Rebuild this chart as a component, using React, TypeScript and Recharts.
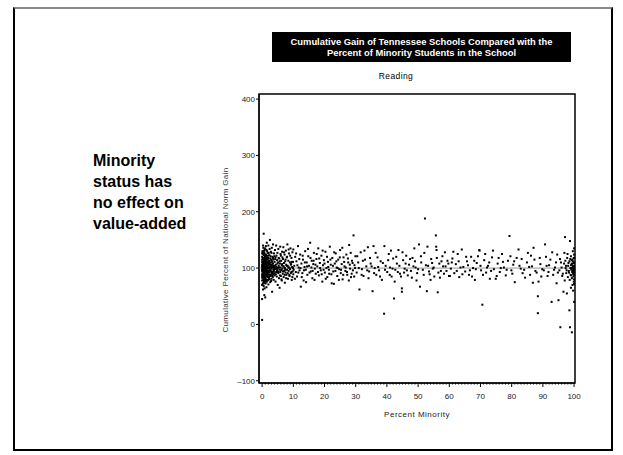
import { ReferenceArea, ReferenceLine, Scatter, ScatterChart, XAxis, YAxis } from 'recharts';

// [percent minority, cumulative % of national norm gain]
const nearZero: [number, number][] = [
  [0, 102], [0, 95], [0, 110], [0, 88], [0, 120], [0, 78], [0, 8], [0.1, 130], [0.1, 99], [0.1, 91],
  [0.2, 105], [0.2, 84], [0.2, 116], [0.2, 72], [0.3, 140], [0.3, 97], [0.3, 108], [0.3, 62], [0.4, 93], [0.4, 125],
  [0.4, 101], [0.4, 81], [0.5, 161], [0.5, 112], [0.5, 89], [0.5, 104], [0.5, 68], [0.6, 96], [0.6, 118], [0.6, 85],
  [0.6, 107], [0.7, 52], [0.7, 99], [0.7, 128], [0.7, 92], [0.8, 114], [0.8, 76], [0.8, 103], [0.8, 87], [0.9, 121],
  [0.9, 95], [0.9, 109], [1, 48], [1, 100], [1, 135], [1, 83], [1, 117], [1, 90], [1.1, 106], [1.1, 73],
  [1.1, 97], [1.2, 124], [1.2, 88], [1.2, 111], [1.3, 102], [1.3, 80], [1.3, 94], [1.4, 132], [1.4, 115], [1.4, 66],
  [1.5, 98], [1.5, 107], [1.5, 86], [1.5, 145], [1.6, 119], [1.6, 91], [1.6, 101], [1.7, 78], [1.7, 112], [1.7, 96],
  [1.8, 104], [1.8, 127], [1.8, 84], [1.9, 93], [1.9, 109], [2, 100], [2, 118], [2, 71], [2, 140], [2, 89],
  [2.1, 105], [2.1, 95], [2.2, 113], [2.2, 82], [2.3, 99], [2.3, 123], [2.4, 92], [2.4, 107], [2.5, 86], [2.5, 150],
  [2.5, 102], [2.6, 117], [2.6, 75], [2.7, 96], [2.7, 110], [2.8, 88], [2.8, 129], [2.9, 103], [2.9, 94], [3, 114],
  [3, 81], [3, 99], [3.1, 136], [3.1, 106], [3.2, 90], [3.2, 58], [3.3, 101], [3.3, 120], [3.4, 93], [3.4, 84],
  [3.5, 108], [3.5, 142], [3.6, 97], [3.6, 115], [3.7, 79], [3.8, 104], [3.8, 126], [3.9, 91], [3.9, 100], [4, 111],
  [0, 115], [0, 83], [0, 97], [0, 106], [0, 70], [0, 126], [0, 45], [0.1, 112], [0.1, 86], [0.1, 104],
  [0.2, 95], [0.2, 128], [0.2, 99], [0.3, 88], [0.3, 118], [0.3, 103], [0.4, 110], [0.4, 74], [0.4, 136], [0.5, 96],
  [0.5, 123], [0.5, 80], [0.6, 101], [0.6, 131], [0.6, 77], [0.7, 110], [0.7, 84], [0.7, 115], [0.8, 96], [0.8, 125],
  [0.8, 64], [0.9, 102], [0.9, 80], [0.9, 133], [1, 108], [1, 94], [1, 73], [1.1, 120], [1.1, 89], [1.1, 113],
  [1.2, 98], [1.2, 77], [1.2, 139], [1.3, 110], [1.3, 122], [1.4, 92], [1.4, 104], [1.4, 85], [1.5, 117], [1.5, 76],
  [1.6, 109], [1.6, 130], [1.7, 100], [1.7, 88], [1.8, 116], [1.8, 95], [1.9, 122], [1.9, 79], [2, 108], [2, 94],
  [2.1, 127], [2.1, 84], [2.2, 101], [2.3, 111], [2.3, 88], [2.4, 134], [2.4, 80], [2.5, 96], [2.6, 106], [2.7, 121],
  [2.7, 86], [2.8, 101], [2.9, 115], [2.9, 77], [3, 106], [3, 127], [3.1, 92], [3.2, 111], [3.3, 86], [3.4, 104],
  [3.5, 118], [3.6, 89], [3.7, 102], [3.8, 95], [3.9, 121], [4, 100],
];

const lowMinority: [number, number][] = [
  [4, 87], [4.1, 132], [4.2, 98], [4.3, 119], [4.3, 76], [4.4, 106], [4.5, 93], [4.5, 140], [4.6, 102], [4.7, 85],
  [4.8, 114], [4.8, 96], [4.9, 127], [5, 100], [5, 70], [5.1, 110], [5.2, 91], [5.2, 134], [5.3, 104], [5.4, 82],
  [5.5, 117], [5.5, 97], [5.6, 65], [5.7, 108], [5.8, 93], [5.8, 138], [5.9, 101], [6, 86], [6, 122], [6.1, 113],
  [6.2, 96], [6.3, 105], [6.3, 78], [6.4, 129], [6.5, 99], [6.6, 90], [6.7, 116], [6.8, 103], [6.8, 137], [6.9, 84],
  [7, 109], [7.1, 95], [7.2, 124], [7.3, 100], [7.3, 74], [7.4, 112], [7.5, 92], [7.6, 131], [7.7, 106], [7.8, 88],
  [7.9, 119], [8, 97], [8.1, 142], [8.2, 104], [8.3, 81], [8.4, 113], [8.5, 95], [8.6, 126], [8.7, 101], [8.8, 86],
  [8.9, 110], [9, 98], [9.1, 135], [9.2, 91], [9.3, 107], [9.4, 118], [9.5, 79], [9.6, 102], [9.7, 128], [9.8, 94],
  [9.9, 111], [10, 89], [10, 133],
  [4.1, 104], [4.2, 116], [4.4, 89], [4.6, 122], [4.7, 99], [4.9, 108], [5.1, 93], [5.3, 118], [5.4, 101], [5.6, 112],
  [5.7, 87], [5.9, 125], [6.1, 97], [6.2, 80], [6.4, 107], [6.5, 119], [6.7, 94], [6.9, 103], [7, 128], [7.2, 88],
  [7.4, 97], [7.5, 115], [7.7, 82], [7.9, 104], [8, 120], [8.2, 91], [8.4, 101], [8.5, 133], [8.7, 88], [8.9, 99],
  [9, 122], [9.2, 106], [9.4, 93], [9.5, 111], [9.7, 84], [9.9, 100],
];

const midLow: [number, number][] = [
  [10.3, 104], [10.6, 120], [10.8, 93], [11, 112], [11.2, 85], [11.5, 139], [11.7, 101], [12, 96], [12.2, 124], [12.4, 67],
  [12.6, 108], [12.9, 91], [13.1, 115], [13.3, 78], [13.6, 102], [13.8, 130], [14, 97], [14.3, 110], [14.5, 88], [14.8, 121],
  [15, 104], [15.4, 145], [15.6, 94], [15.9, 113], [16.1, 82], [16.4, 107], [16.6, 127], [16.9, 99], [17.2, 90], [17.4, 116],
  [17.7, 103], [18, 135], [18.2, 87], [18.5, 109], [18.8, 96], [19, 122], [19.3, 76], [19.5, 105], [19.8, 114], [20.1, 92],
  [20.3, 129], [20.6, 100], [20.9, 84], [21.1, 111], [21.4, 97], [21.7, 138], [22, 106], [22.2, 89], [22.5, 118], [22.8, 94],
  [23, 72], [23.3, 108], [23.6, 126], [23.9, 101], [24.1, 86], [24.4, 115], [24.7, 98], [25, 132], [25.2, 91], [25.5, 107],
  [25.8, 80], [26.1, 119], [26.4, 103], [26.7, 95], [27, 124], [27.3, 88], [27.6, 110], [27.9, 141], [28.2, 99], [28.5, 84],
  [28.8, 113], [29.1, 96], [29.3, 158], [29.6, 105], [29.9, 121],
  [10.1, 97], [10.5, 81], [10.9, 126], [11.3, 105], [11.6, 92], [11.9, 116], [12.3, 100], [12.7, 84], [13, 122], [13.4, 96],
  [13.7, 110], [14.1, 75], [14.4, 103], [14.7, 134], [15.2, 92], [15.5, 118], [15.8, 101], [16.2, 95], [16.5, 113], [16.8, 79],
  [17.1, 106], [17.5, 125], [17.9, 93], [18.3, 117], [18.6, 100], [19.1, 89], [19.4, 131], [19.7, 97], [20, 108], [20.4, 81],
  [20.8, 120], [21.2, 102], [21.5, 90], [21.9, 115], [22.3, 73], [22.7, 104], [23.1, 128], [23.5, 95], [23.8, 112], [24.2, 100],
  [24.6, 79], [24.9, 119], [25.3, 97], [25.7, 136], [26, 88], [26.3, 111], [26.8, 101], [27.2, 93], [27.5, 117], [27.8, 78],
  [28.1, 106], [28.4, 127], [28.7, 90], [29, 109], [29.5, 85], [29.8, 100],
];

const midHigh: [number, number][] = [
  [30.3, 92], [30.8, 110], [31.2, 62], [31.6, 128], [32, 98], [32.5, 86], [33, 115], [33.4, 103], [33.9, 137], [34.3, 94],
  [34.8, 108], [35.4, 59], [35.7, 139], [36.1, 100], [36.6, 88], [37, 119], [37.5, 96], [38, 112], [38.4, 79], [39.1, 19],
  [39.2, 139], [39.6, 104], [40.1, 93], [40.6, 125], [41, 101], [41.5, 85], [42, 117], [42.3, 46], [42.7, 97], [43.2, 108],
  [43.7, 132], [44.2, 90], [44.8, 64], [44.8, 58], [45.2, 114], [45.7, 99], [46.2, 122], [46.7, 87], [47.1, 106], [47.7, 95],
  [48.2, 118], [48.8, 135], [49.2, 101], [49.7, 91], [50.3, 142], [50.6, 67], [51, 110], [51.5, 97], [52, 127], [52.2, 188],
  [52.8, 59], [53.2, 104], [53.7, 89], [54.2, 116], [54.7, 99], [55.2, 85], [55.7, 158], [55.8, 138], [55.9, 132], [56.3, 57],
  [56.8, 108], [57.3, 95], [57.8, 121], [58.3, 90], [58.8, 103], [59.4, 113], [59.9, 86],
  [30.5, 121], [31, 100], [31.9, 88], [32.3, 113], [32.8, 131], [33.7, 96], [34.1, 82], [34.6, 118], [35.1, 103], [35.9, 91],
  [36.4, 127], [37.2, 102], [37.8, 85], [38.7, 109], [39.4, 97], [40.4, 114], [40.9, 88], [41.3, 131], [41.8, 99], [42.5, 76],
  [43, 120], [43.5, 93], [44, 104], [44.5, 85], [45, 128], [45.5, 92], [46, 108], [46.4, 96], [47.4, 116], [48, 83],
  [48.5, 103], [49, 112], [49.5, 78], [50, 98], [50.9, 121], [51.8, 88], [52.5, 105], [53, 138], [53.5, 94], [54, 79],
  [54.5, 109], [55, 101], [56, 118], [56.5, 92], [57, 83], [57.5, 112], [58, 103], [58.6, 128], [59.1, 95], [59.7, 108],
];

const highMinority: [number, number][] = [
  [60.5, 99], [61, 117], [61.6, 91], [62.1, 107], [62.7, 125], [63.2, 84], [64, 133], [64.5, 102], [65.1, 94], [65.7, 112],
  [66.3, 88], [67, 120], [67.6, 100], [68.2, 79], [68.8, 109], [69.6, 132], [69.7, 131], [70.2, 96], [70.6, 35], [71.2, 114],
  [71.8, 92], [72.4, 104], [73, 81], [73.7, 119], [74.3, 98], [74.9, 81], [75.5, 108], [76.2, 93], [76.9, 125], [77.5, 101],
  [78.1, 87], [78.8, 113], [79.3, 157], [79.9, 96], [80.5, 106], [81, 75], [81.6, 118], [82.2, 133], [82.9, 99], [83.5, 91],
  [84.3, 83], [84.9, 110], [85.6, 102], [86.2, 122], [86.8, 74], [87, 136], [87.6, 95], [88.4, 50], [88.4, 20], [88.6, 76],
  [89.2, 107], [89.8, 98],
  [60.2, 86], [60.8, 110], [61.3, 129], [62.4, 95], [63, 112], [63.6, 101], [64.2, 89], [65.4, 120], [66, 105], [66.6, 96],
  [67.3, 85], [68, 113], [68.5, 98], [69.2, 121], [70, 104], [70.8, 88], [71.5, 125], [72.1, 101], [72.8, 110], [73.4, 95],
  [74, 131], [75.2, 86], [75.8, 118], [76.5, 100], [77.2, 111], [78.4, 97], [79.6, 121], [80.2, 90], [80.8, 112], [82.5, 104],
  [83.2, 116], [84, 97], [85.2, 127], [85.9, 88], [86.5, 103], [87.3, 115], [88, 92], [89, 118], [89.5, 85],
];

const nearHundred: [number, number][] = [
  [90.7, 142], [91.2, 104], [91.8, 93], [92.4, 115], [92.8, 40], [93.3, 88], [93.9, 101], [94.4, 73], [94.6, 124], [95, 43],
  [95.3, 96], [95.6, -5], [95.8, 110], [96.2, 86], [96.6, 58], [96.9, 127], [97.1, 155], [97.3, 100], [97.5, 91], [97.7, 55],
  [97.8, 118], [98, 84], [98.1, 104], [98.3, 95], [98.5, 25], [98.5, 112], [98.6, 79], [98.7, 148], [98.7, -5], [98.8, 100],
  [98.9, 88], [99, 65], [99, 121], [99.1, 97], [99.2, 107], [99.3, 82], [99.3, -14], [99.4, 93], [99.5, 115], [99.5, 70],
  [99.6, 102], [99.6, 130], [99.7, 90], [99.7, 60], [99.8, 109], [99.8, 85], [99.9, 98], [99.9, 76], [100, 104], [100, 92],
  [100, 118], [100, 40], [100, 80], [100, 135],
  [90.3, 96], [91, 120], [91.5, 86], [92, 105], [93, 128], [93.6, 97], [94.2, 110], [94.8, 92], [95.5, 116], [96, 101],
  [96.4, 90], [96.8, 108], [97, 78], [97.2, 113], [97.4, 104], [97.6, 96], [97.9, 125], [98.2, 109], [98.4, 92], [98.8, 116],
  [99, 105], [99.1, 87], [99.2, 114], [99.3, 100], [99.4, 108], [99.5, 96], [99.6, 112], [99.7, 104], [99.8, 95], [99.9, 118],
  [100, 100], [100, 88], [100, 110], [100, 96], [100, 72], [100, 124],
];

const xTicks = [0, 10, 20, 30, 40, 50, 60, 70, 80, 90, 100];
const yTicks = [-100, 0, 100, 200, 300, 400];
const xMinorTicks = Array.from({ length: 101 }, (_, i) => i);

const points = [...nearZero, ...lowMinority, ...midLow, ...midHigh, ...highMinority, ...nearHundred].map(
  ([x, y]) => ({ x, y }),
);

const axisFont = '"Liberation Sans", Arial, sans-serif';

function Square(props: any) {
  return <rect x={props.cx - 1} y={props.cy - 1} width={2} height={2} fill="#000" />;
}

function XTick({ x, y, payload }: any) {
  const major = xTicks.includes(payload.value);
  return (
    <g>
      <line x1={x} x2={x} y1={y} y2={y + (major ? 4 : 1.5)} stroke="#000" strokeWidth={1} />
      {major && (
        <text x={x} y={y + 16} textAnchor="middle" fontSize={8} fontFamily={axisFont} fill="#222">
          {payload.value}
        </text>
      )}
    </g>
  );
}

export default function App() {
  return (
    <div style={{ position: 'relative', width: 623, height: 455, background: '#fff', fontFamily: axisFont }}>
      <style>{'body{margin:0}'}</style>
      <div
        style={{
          position: 'absolute',
          left: 13,
          top: 7,
          width: 596,
          height: 440,
          borderLeft: '2px solid #000',
          borderTop: '2px solid #888',
          borderRight: '2px solid #000',
          borderBottom: '2px solid #000',
        }}
      />
      <div
        style={{
          position: 'absolute',
          left: 272,
          top: 32,
          width: 299,
          height: 30,
          background: '#000',
          color: '#fff',
          fontWeight: 'bold',
          fontSize: 9.4,
          lineHeight: '11.5px',
          textAlign: 'center',
          paddingTop: 3.5,
          boxSizing: 'border-box',
        }}
      >
        Cumulative Gain of Tennessee Schools Compared with the
        <br />
        Percent of Minority Students in the School
      </div>
      <div style={{ position: 'absolute', left: 346, top: 71, width: 100, textAlign: 'center', fontSize: 8.5, letterSpacing: 0.4 }}>
        Reading
      </div>
      <div
        style={{
          position: 'absolute',
          left: 93,
          top: 150,
          fontSize: 16,
          fontWeight: 'bold',
          lineHeight: '21px',
          color: '#000',
        }}
      >
        Minority
        <br />
        status has
        <br />
        no effect on
        <br />
        value-added
      </div>
      <div style={{ position: 'absolute', left: 0, top: 0 }}>
        <ScatterChart width={623} height={455} margin={{ top: 94, right: 48, bottom: 42, left: 219 }}>
          <XAxis
            type="number"
            dataKey="x"
            domain={[-1, 100.3]}
            ticks={xMinorTicks}
            interval={0}
            tickSize={0}
            tickMargin={0}
            tickLine={false}
            tick={<XTick />}
            axisLine={{ stroke: '#000' }}
            height={30}
            label={{
              value: 'Percent Minority',
              position: 'insideBottom',
              offset: -4,
              fontSize: 8,
              fill: '#222',
              style: { letterSpacing: 0.5, fontFamily: axisFont },
            }}
          />
          <YAxis
            type="number"
            dataKey="y"
            domain={[-104, 409]}
            ticks={yTicks}
            interval={0}
            width={40}
            tickSize={3}
            tickMargin={1}
            tickLine={{ stroke: '#000' }}
            axisLine={{ stroke: '#000' }}
            tick={{ fontSize: 8, fill: '#222', fontFamily: axisFont }}
            tickFormatter={(v: number) => (v < 0 ? `\u2013${-v}` : String(v))}
            label={{
              content: () => (
                <text
                  x={228}
                  y={250}
                  transform="rotate(-90 228 250)"
                  textAnchor="middle"
                  fontSize={8}
                  letterSpacing={0.35}
                  fontFamily={axisFont}
                  fill="#333"
                >
                  Cumulative Percent of National Norm Gain
                </text>
              ),
            }}
          />
          <ReferenceArea x1={-1} x2={100.3} y1={-104} y2={409} fill="none" stroke="#000" strokeWidth={1.5} ifOverflow="visible" />
          <ReferenceLine y={100} stroke="#999" strokeWidth={1} />
          <Scatter data={points} shape={<Square />} isAnimationActive={false} />
        </ScatterChart>
      </div>
    </div>
  );
}
